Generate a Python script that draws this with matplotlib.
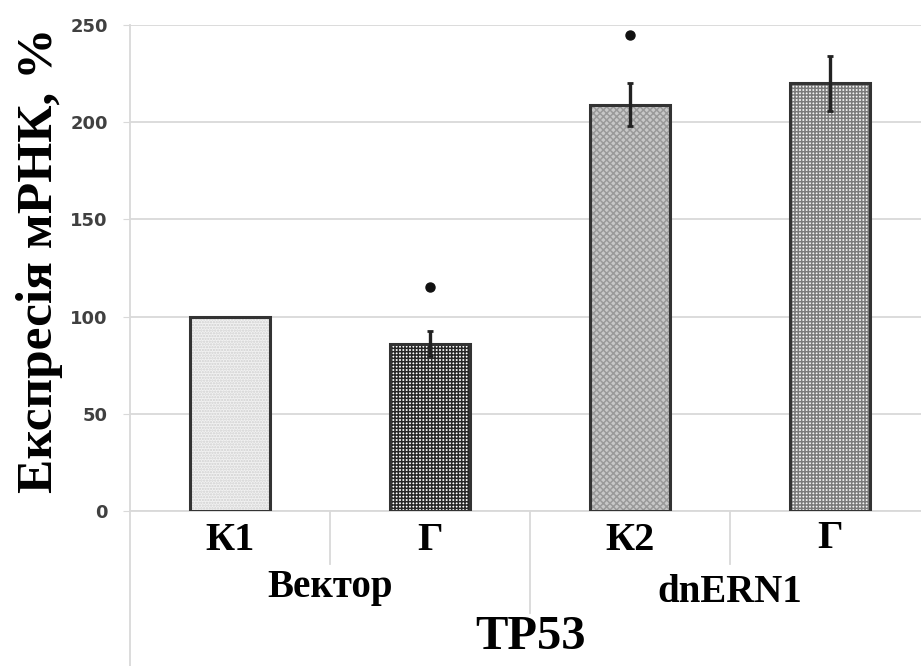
import matplotlib
matplotlib.use("Agg")
import matplotlib.pyplot as plt
from matplotlib.lines import Line2D

categories = ["К1", "Г", "К2", "Г"]
groups = ["Вектор", "dnERN1"]
outer_label = "TP53"
values = [100, 86, 209, 220]
errors = [0, 6.5, 11, 14]
stars = [None, 115, 245, None]
yticks = [0, 50, 100, 150, 200, 250]
ylabel = "Експресія мРНК, %"

faces = ["#f2f2f2", "#ffffff", "#c8c8c8", "#f4f4f4"]
hatches = ["......", "+++++", "xxxxx", "+++++"]
hcolors = ["#d0d0d0", "#262626", "#9a9a9a", "#7a7a7a"]

plt.rcParams["hatch.linewidth"] = 1.1
serif = ["Liberation Serif", "DejaVu Serif"]

W, H = 921, 666
fig = plt.figure(figsize=(W/100, H/100), dpi=100)
ax = fig.add_axes([130/W, (H-511)/H, 800/W, 486/H])
x = list(range(len(categories)))
ax.bar(x, values, width=0.4, color=faces, edgecolor="none", zorder=2)
for i in x:
    ax.bar(i, values[i], width=0.4, color="none", hatch=hatches[i], edgecolor=hcolors[i], linewidth=0, zorder=3)
ax.bar(x, values, width=0.4, fill=False, edgecolor="#333333", linewidth=2.2, zorder=4)
for i in x:
    if errors[i] > 0:
        ax.errorbar(i, values[i], yerr=errors[i], fmt="none", ecolor="#222222", elinewidth=2.4, capsize=2, capthick=2, zorder=5)
    if stars[i] is not None:
        ax.plot(i, stars[i], "o", color="#111111", markersize=6.5, zorder=5)

ax.set_xlim(-0.5, 3.5)
ax.set_ylim(0, 250)
ax.set_yticks(yticks)
ax.set_yticklabels([str(t) for t in yticks], fontsize=13, fontweight="bold", color="#404040", family=["DejaVu Sans"])
ax.tick_params(axis="y", length=5, color="#d9d9d9", pad=11)
ax.tick_params(axis="x", length=0, labelbottom=False)
ax.grid(axis="y", color="#d9d9d9", linewidth=1.3, zorder=0)
ax.set_axisbelow(True)
for s in ["top", "right", "left"]:
    ax.spines[s].set_visible(False)
ax.spines["bottom"].set_color("#d9d9d9")
ax.spines["bottom"].set_linewidth(1.3)

fig.text(40/W, 1 - 260/H, ylabel, rotation=90, ha="center", va="center", fontsize=37, fontweight="bold", family=serif)

trans = ax.get_xaxis_transform()
def vline(xv, y0, y1):
    ax.add_line(Line2D([xv, xv], [y0, y1], transform=trans, color="#d9d9d9", linewidth=1.3, clip_on=False))
vline(-0.5, -0.32, 1.0)
vline(0.5, 0, -0.11)
vline(1.5, 0, -0.21)
vline(2.5, 0, -0.11)

def ypix(py):
    # pixel row -> axes fraction
    return (511 - py) / 486

cat_y = [541, 540, 541, 539]
for i, c in enumerate(categories):
    ax.text(i, ypix(cat_y[i]), c, transform=trans, ha="center", va="center", fontsize=29, fontweight="bold", family=serif)
for g, gx, gy in zip(groups, [0.5, 2.5], [588, 592]):
    ax.text(gx, ypix(gy), g, transform=trans, ha="center", va="center", fontsize=28, fontweight="bold", family=serif)
ax.text(1.5, ypix(637), outer_label, transform=trans, ha="center", va="center", fontsize=35, fontweight="bold", family=serif)

fig.savefig("out.png", dpi=100)
